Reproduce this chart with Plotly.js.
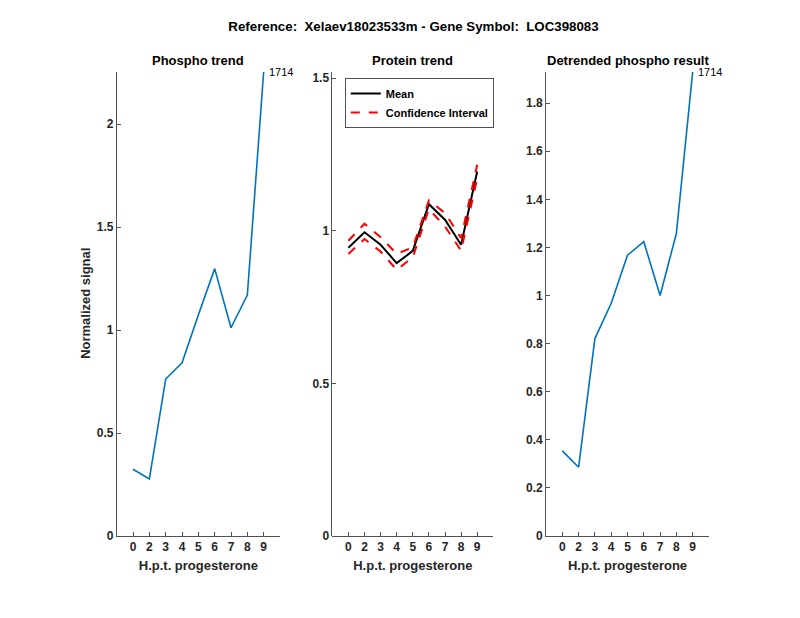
<!DOCTYPE html>
<html>
<head>
<meta charset="utf-8">
<script src="https://cdn.plot.ly/plotly-3.0.1.min.js"></script>
<style>html,body{margin:0;padding:0;background:#fff;}#chart{width:800px;height:618px;}</style>
</head>
<body>
<div id="chart"></div>
<script>
// ---- data ----
const tickLabels = ['0', '2', '3', '4', '5', '6', '7', '8', '9'];
const positions = [1, 2, 3, 4, 5, 6, 7, 8, 9];
const phospho = [0.324, 0.277, 0.762, 0.841, 1.073, 1.298, 1.011, 1.170, 2.254];
const proteinMean = [0.944, 0.995, 0.954, 0.894, 0.934, 1.087, 1.036, 0.954, 1.194];
const proteinUpper = [0.967, 1.023, 0.979, 0.924, 0.946, 1.099, 1.058, 0.976, 1.216];
const proteinLower = [0.924, 0.973, 0.932, 0.872, 0.913, 1.071, 1.014, 0.935, 1.172];
const detrended = [0.354, 0.286, 0.821, 0.968, 1.168, 1.224, 1.000, 1.259, 1.931];
const peptideLabel = '1714';
const mainTitle = 'Reference:  Xelaev18023533m - Gene Symbol:  LOC398083';
const subTitles = ['Phospho trend', 'Protein trend', 'Detrended phospho result'];

// ---- style ----
const FONT = 'Liberation Sans, Arial, Helvetica, sans-serif';
const AX = '#262626';
const BLUE = '#0072BD';
const W = 800, H = 618;
const yDom = [1 - 536 / H, 1 - 71.7 / H];
const xDoms = [[116.7 / W, 280 / W], [332.3 / W, 493.3 / W], [546 / W, 709 / W]];

function xAxis(dom, anchor) {
  return {
    domain: dom, anchor: anchor, range: [0, 10],
    tickmode: 'array', tickvals: positions, ticktext: tickLabels,
    ticks: 'inside', ticklen: 4, tickcolor: AX, tickwidth: 0.8,
    showline: true, linecolor: AX, linewidth: 0.8,
    showgrid: false, zeroline: false,
    tickfont: {family: FONT, size: 12, color: AX, weight: 'bold'},
    title: {text: 'H.p.t. progesterone', standoff: 7,
            font: {family: FONT, size: 13, color: AX, weight: 'bold'}}
  };
}
function yAxis(anchor, range, dtick) {
  return {
    domain: yDom, anchor: anchor, range: range, dtick: dtick, tick0: 0,
    ticks: 'inside', ticklen: 4, tickcolor: AX, tickwidth: 0.8,
    showline: true, linecolor: AX, linewidth: 0.8,
    showgrid: false, zeroline: false,
    tickfont: {family: FONT, size: 12, color: AX, weight: 'bold'}
  };
}

const traces = [
  {x: positions, y: phospho, xaxis: 'x', yaxis: 'y', type: 'scatter', mode: 'lines',
   line: {color: BLUE, width: 1.6}, showlegend: false},
  {x: positions, y: proteinMean, xaxis: 'x2', yaxis: 'y2', type: 'scatter', mode: 'lines',
   name: 'Mean', line: {color: '#000000', width: 2}, showlegend: true},
  {x: positions, y: proteinUpper, xaxis: 'x2', yaxis: 'y2', type: 'scatter', mode: 'lines',
   name: 'Confidence Interval', line: {color: '#FF0000', width: 2, dash: 'dash'}, showlegend: true},
  {x: positions, y: proteinLower, xaxis: 'x2', yaxis: 'y2', type: 'scatter', mode: 'lines',
   name: 'Confidence Interval', line: {color: '#FF0000', width: 2, dash: 'dash'}, showlegend: false},
  {x: positions, y: detrended, xaxis: 'x3', yaxis: 'y3', type: 'scatter', mode: 'lines',
   line: {color: BLUE, width: 1.6}, showlegend: false}
];

const annotations = [];
subTitles.forEach((t, i) => {
  annotations.push({text: '<b>' + t + '</b>', xref: 'paper', yref: 'paper',
    x: (xDoms[i][0] + xDoms[i][1]) / 2, y: 1 - 61 / H, xanchor: 'center', yanchor: 'middle',
    showarrow: false, font: {family: FONT, size: 13, color: '#000'}});
});
annotations.push({text: '<b>Normalized signal</b>', xref: 'paper', yref: 'paper',
  x: 86 / W, y: (yDom[0] + yDom[1]) / 2, textangle: -90, xanchor: 'center', yanchor: 'middle',
  showarrow: false, font: {family: FONT, size: 13, color: AX}});
annotations.push({text: peptideLabel, xref: 'x', yref: 'y', x: positions[8], y: phospho[8],
  xanchor: 'left', yanchor: 'middle', xshift: 3, showarrow: false,
  font: {family: FONT, size: 11, color: '#000'}});
annotations.push({text: peptideLabel, xref: 'x3', yref: 'y3', x: positions[8], y: detrended[8],
  xanchor: 'left', yanchor: 'middle', xshift: 3, showarrow: false,
  font: {family: FONT, size: 11, color: '#000'}});

const layout = {
  width: W, height: H,
  margin: {l: 0, r: 0, t: 0, b: 0},
  paper_bgcolor: '#fff', plot_bgcolor: 'rgba(0,0,0,0)',
  title: {text: '<b>' + mainTitle + '</b>', x: 413.5 / W, xanchor: 'center',
          y: 1 - 26 / H, yanchor: 'middle', yref: 'paper',
          font: {family: FONT, size: 13.3, color: '#000'}},
  xaxis: xAxis(xDoms[0], 'y'),
  yaxis: yAxis('x', [0, 2.254], 0.5),
  xaxis2: xAxis(xDoms[1], 'y2'),
  yaxis2: yAxis('x2', [0, 1.521], 0.5),
  xaxis3: xAxis(xDoms[2], 'y3'),
  yaxis3: yAxis('x3', [0, 1.931], 0.2),
  showlegend: true,
  legend: {x: 345 / W, y: 1 - 78.3 / H, xanchor: 'left', yanchor: 'top',
           bgcolor: '#fff', bordercolor: '#262626', borderwidth: 0.8,
           font: {family: FONT, size: 11, color: '#000', weight: 'bold'},
           tracegroupgap: 0, itemwidth: 30},
  annotations: annotations
};

Plotly.newPlot('chart', traces, layout, {displayModeBar: false, staticPlot: true});
</script>
</body>
</html>
